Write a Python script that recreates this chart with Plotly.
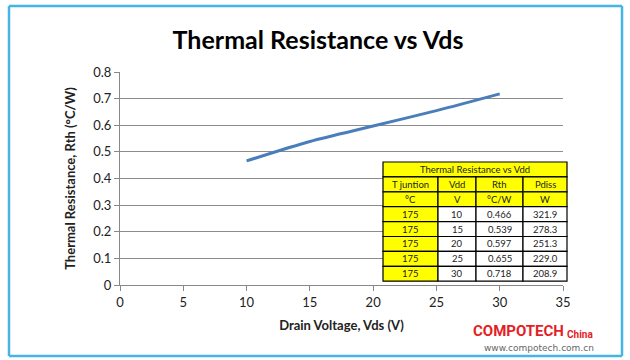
import plotly.graph_objects as go

# ---- data ----
vdd = [10, 15, 20, 25, 30]
rth = [0.466, 0.539, 0.597, 0.655, 0.718]
tj = [175, 175, 175, 175, 175]
pdiss = ["321.9", "278.3", "251.3", "229.0", "208.9"]
table_title = "Thermal Resistance vs Vdd"
col_headers = ["T juntion", "Vdd", "Rth", "Pdiss"]
col_units = ["°C", "V", "°C/W", "W"]
title = "Thermal Resistance vs Vds"
x_title = "Drain Voltage, Vds (V)"
y_title = "Thermal Resistance, Rth (°C/W)"

FONT = "Lato"
W, H = 630, 360
ML, MR, MT, MB = 120, 62, 72, 75
PW, PH = W - ML - MR, H - MT - MB


def px(x):
    return (x - ML) / PW


def py(y):
    return (H - MB - y) / PH


fig = go.Figure()

fig.add_trace(go.Scatter(
    x=vdd, y=rth, mode="lines",
    line=dict(color="#4A7EBB", width=3, shape="spline", smoothing=0.8),
    showlegend=False, hoverinfo="skip",
))

yellow, white = "#FFFF00", "#FFFFFF"
frame = dict(color="#46B4E4", width=2.5)
shapes = [
    # outer frame, drawn as four lines
    dict(type="line", xref="paper", yref="paper", x0=px(9), x1=px(622), y0=py(6), y1=py(6), line=frame),
    dict(type="line", xref="paper", yref="paper", x0=px(9), x1=px(622), y0=py(356), y1=py(356), line=frame),
    dict(type="line", xref="paper", yref="paper", x0=px(9), x1=px(9), y0=py(6), y1=py(356), line=frame),
    dict(type="line", xref="paper", yref="paper", x0=px(622), x1=px(622), y0=py(6), y1=py(356), line=frame),
]
annotations = []

# ---- table built from the data lists ----
col_edges = [383, 438, 476, 523, 567]
row_top, row_h = 162, 14.9
rows = [col_headers, col_units] + [
    [str(t), str(v), f"{r:.3f}", p] for t, v, r, p in zip(tj, vdd, rth, pdiss)
]
tfont = dict(family=FONT, size=9.5, color="#222")

# title row spanning all columns
shapes.append(dict(type="rect", xref="paper", yref="paper",
                   x0=px(col_edges[0]), x1=px(col_edges[-1]),
                   y0=py(row_top + row_h), y1=py(row_top),
                   fillcolor=yellow, line=dict(color="black", width=1.2)))
annotations.append(dict(text=table_title, xref="paper", yref="paper",
                        x=px((col_edges[0] + col_edges[-1]) / 2),
                        y=py(row_top + row_h / 2), xanchor="center", yanchor="middle",
                        showarrow=False, font=tfont))
for ri, row in enumerate(rows):
    top = row_top + (ri + 1) * row_h
    for ci, val in enumerate(row):
        fill = yellow if (ri < 2 or ci == 0) else white
        shapes.append(dict(type="rect", xref="paper", yref="paper",
                           x0=px(col_edges[ci]), x1=px(col_edges[ci + 1]),
                           y0=py(top + row_h), y1=py(top),
                           fillcolor=fill, line=dict(color="black", width=1.2)))
        annotations.append(dict(text=val, xref="paper", yref="paper",
                                x=px((col_edges[ci] + col_edges[ci + 1]) / 2),
                                y=py(top + row_h / 2), xanchor="center", yanchor="middle",
                                showarrow=False, font=tfont))

annotations += [
    dict(text="<b>COMPOTECH</b>", xref="paper", yref="paper",
         x=px(566), y=py(331), xanchor="right", yanchor="middle", showarrow=False,
         font=dict(family="Roboto", size=15, color="#E41E26")),
    dict(text="<b>China</b>", xref="paper", yref="paper",
         x=px(565), y=py(334), xanchor="left", yanchor="middle", showarrow=False,
         font=dict(family="Roboto", size=10, color="#E41E26")),
    dict(text="www.compotech.com.cn", xref="paper", yref="paper",
         x=px(596), y=py(348), xanchor="right", yanchor="middle", showarrow=False,
         font=dict(family="DejaVu Sans", size=9, color="#666")),
]

fig.update_layout(
    width=W, height=H,
    margin=dict(l=ML, r=MR, t=MT, b=MB),
    paper_bgcolor="white", plot_bgcolor="white",
    font=dict(family=FONT, color="#222"),
    title=dict(text="<b>" + title + "</b>", x=318 / W, xanchor="center",
               y=1 - 40 / H, yanchor="middle",
               font=dict(family=FONT, size=25, color="black")),
    shapes=shapes, annotations=annotations,
    xaxis=dict(range=[0, 35], dtick=5, domain=[0, 443 / PW],
               showgrid=False, zeroline=False,
               showline=True, linecolor="#888", linewidth=1,
               ticks="outside", ticklen=5, tickcolor="#888",
               tickfont=dict(family=FONT, size=13, color="#222"),
               title=dict(text="<b>" + x_title + "</b>", standoff=12,
                          font=dict(family=FONT, size=13, color="#222"))),
    yaxis=dict(range=[0, 0.8], dtick=0.1,
               showgrid=True, gridcolor="#8C8C8C", gridwidth=1, zeroline=False,
               showline=True, linecolor="#888", linewidth=1,
               ticks="outside", ticklen=5, tickcolor="#888",
               tickfont=dict(family=FONT, size=13, color="#222"),
               title=dict(text="<b>" + y_title + "</b>", standoff=14,
                          font=dict(family=FONT, size=13, color="#222"))),
)

fig.write_html("out.html", config={"displayModeBar": False},
               post_script="document.body.style.margin='0';")
